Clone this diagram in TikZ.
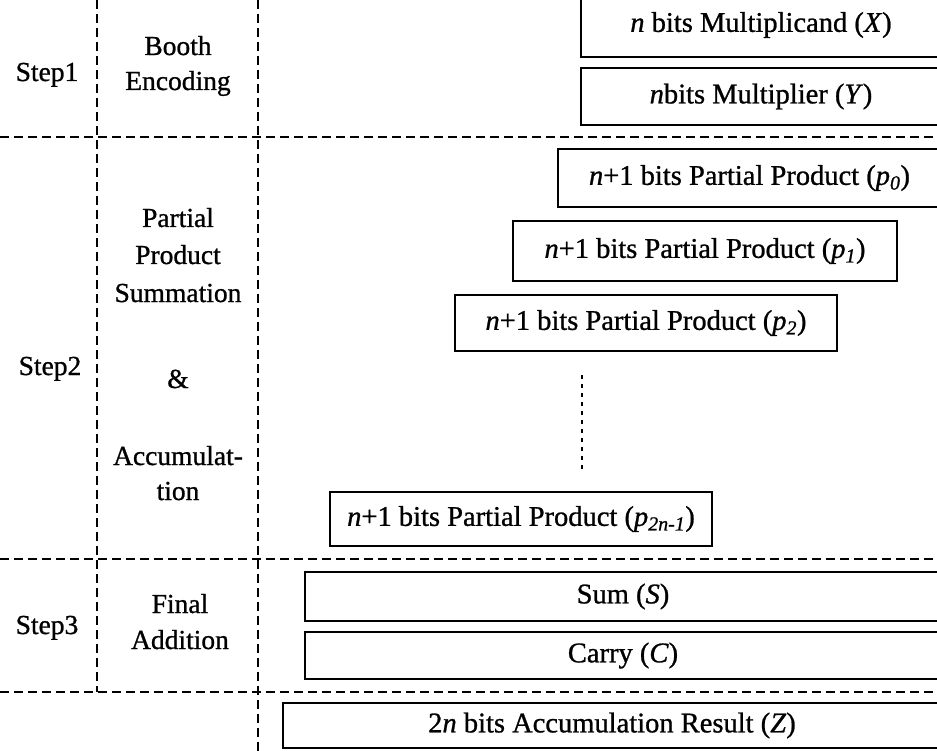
\documentclass[tikz,border=0pt]{standalone}
\usepackage{fontspec}
\setmainfont{Liberation Serif}[FakeBold=0.9]
\newcommand\bxfont{\fontsize{28.5}{32}\selectfont}
\newcommand\lbfont{\fontsize{27.5}{31}\selectfont}
\begin{document}
\begin{tikzpicture}[x=1pt,y=-1pt,
  box/.style={draw,line width=2.4pt,rectangle,inner sep=0pt,font=\bxfont},
  sepline/.style={line width=2pt,dash pattern=on 9pt off 5pt},
  dotline/.style={line width=2pt,dash pattern=on 4pt off 5pt},
  lbl/.style={anchor=base,inner sep=0pt,font=\lbfont}]
\clip (0,0) rectangle (937,751);
\fill[white] (0,0) rectangle (937,751);

% section dividers
\draw[sepline] (0,137) -- (937,137);
\draw[sepline] (0,559) -- (937,559);
\draw[sepline] (0,692) -- (937,692);
\draw[sepline] (97,0) -- (97,692);
\draw[sepline] (258,0) -- (258,751);

% step column
\node[lbl] (st1) at (47,81) {Step1};
\node[lbl] (st2) at (50,375) {Step2};
\node[lbl] (st3) at (47,634) {Step3};

% phase column
\node[lbl] (booth) at (178,55) {Booth};
\node[lbl] (enc) at (178,90) {Encoding};
\node[lbl] (part) at (178,227) {Partial};
\node[lbl] (prod) at (178,264) {Product};
\node[lbl] (summ) at (178,302) {Summation};
\node[lbl] (amp) at (178,388) {\&};
\node[lbl] (accu) at (178,465) {Accumulat-};
\node[lbl] (tion) at (178,500) {tion};
\node[lbl] (final) at (180,613) {Final};
\node[lbl] (addi) at (180,649) {Addition};

% operands
\node[box,minimum width=360pt,minimum height=64pt] (mcand) at (761,25)
  {\textit{n} bits Multiplicand (\textit{X})};
\node[box,minimum width=360pt,minimum height=57pt] (mplier) at (761,96.5)
  {\textit{n}bits Multiplier (\textit{Y})};

% partial products
\node[box,minimum width=383pt,minimum height=58pt] (pp0) at (749.5,178)
  {\textit{n}+1 bits Partial Product (\textit{p}\textsubscript{\textit{0}})};
\node[box,minimum width=384pt,minimum height=60pt] (pp1) at (705,251)
  {\textit{n}+1 bits Partial Product (\textit{p}\textsubscript{\textit{1}})};
\node[box,minimum width=382pt,minimum height=56pt] (pp2) at (646,323)
  {\textit{n}+1 bits Partial Product (\textit{p}\textsubscript{\textit{2}})};
\node[box,minimum width=382pt,minimum height=54pt] (ppl) at (521,519)
  {\textit{n}+1 bits Partial Product (\textit{p}\textsubscript{\textit{2n-1}})};

% ellipsis between p2 and the last partial product
\coordinate (dtop) at (582,375);
\coordinate (dbot) at (582,473);
\draw[dotline] (dtop) -- (dbot);

% final addition
\node[box,minimum width=636pt,minimum height=49pt] (sum) at (623,596.5)
  {Sum (\textit{S})};
\node[box,minimum width=636pt,minimum height=47pt] (carry) at (623,655.5)
  {Carry (\textit{C})};

% result
\node[box,minimum width=658pt,minimum height=45pt] (res) at (612,725.5)
  {2\textit{n} bits Accumulation Result (\textit{Z})};
\end{tikzpicture}
\end{document}
